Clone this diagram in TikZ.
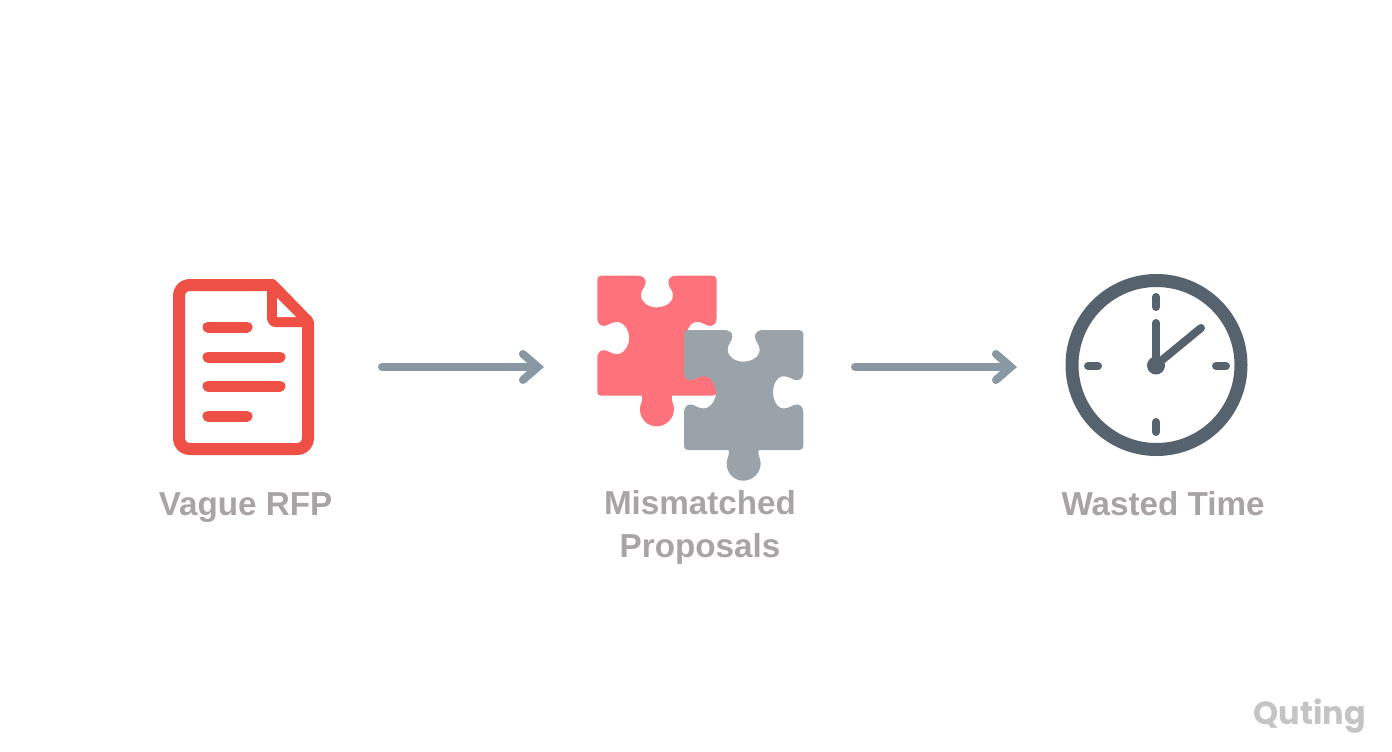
\documentclass[tikz,border=0pt]{standalone}
\usepackage{fontspec}
\setmainfont{Liberation Sans}
\newfontfamily\markfont{Poppins}
\usetikzlibrary{arrows.meta}
\definecolor{docred}{HTML}{EE5045}
\definecolor{pink}{HTML}{FE737B}
\definecolor{piecegray}{HTML}{9AA3AA}
\definecolor{clockgray}{HTML}{56636E}
\definecolor{arrowgray}{HTML}{8A98A3}
\definecolor{labelgray}{HTML}{A8A3A5}
\definecolor{markgray}{HTML}{C4C4C4}
\newcommand\piecepath{%
  (0,12) .. controls (0,4) and (4,0) .. (12,0) -- (120,0)
  .. controls (136,0) and (146,8) .. (145,20)
  .. controls (144,36) and (130,42) .. (131,60)
  .. controls (132,82) and (155,95) .. (178,95)
  .. controls (202,95) and (226,82) .. (227,60)
  .. controls (228,42) and (213,36) .. (213,20)
  .. controls (213,8) and (222,0) .. (238,0) -- (345,0)
  .. controls (353,0) and (358,4) .. (358,12) -- (358,128)
  .. controls (358,145) and (345,155) .. (330,149)
  .. controls (315,142) and (305,136) .. (290,140)
  .. controls (276,146) and (267,165) .. (267,187)
  .. controls (267,208) and (276,228) .. (290,234)
  .. controls (305,238) and (315,232) .. (330,225)
  .. controls (345,219) and (358,229) .. (358,246) -- (358,348)
  .. controls (358,356) and (353,360) .. (345,360) -- (224,360)
  .. controls (220,375) and (230,385) .. (230,400)
  .. controls (230,430) and (205,452) .. (178,452)
  .. controls (150,452) and (128,430) .. (128,400)
  .. controls (128,385) and (138,375) .. (134,360) -- (12,360)
  .. controls (4,360) and (0,356) .. (0,348) -- (0,246)
  .. controls (0,229) and (13,219) .. (28,225)
  .. controls (43,232) and (53,238) .. (68,234)
  .. controls (84,228) and (96,208) .. (96,187)
  .. controls (96,165) and (84,146) .. (68,140)
  .. controls (53,136) and (43,142) .. (28,149)
  .. controls (13,155) and (0,145) .. (0,128) -- cycle}
\tikzset{
  iconbox/.style={minimum height=180pt,inner sep=0pt,outer sep=0pt},
  flow/.style={draw=arrowgray,line width=8pt,line cap=round,
    -{Straight Barb[length=15pt,width=26pt,line cap=round,line join=miter]}},
  docline/.style={draw=docred,line width=12pt,line join=round},
  docbar/.style={draw=docred,line width=11pt,line cap=round},
  clockline/.style={draw=clockgray,line width=8pt,line cap=round},
  lab/.style={text=labelgray,font=\bfseries\fontsize{33.2}{43}\selectfont,align=center,inner sep=0pt},
}
\begin{document}
\begin{tikzpicture}[x=1pt,y=-1pt]
\useasboundingbox[fill=white] (0,0) rectangle (1392,752);
\node[iconbox,minimum width=277pt] (doc) at (243.5,367) {};
\node[iconbox,minimum width=311pt] (puz) at (699.5,367) {};
\node[iconbox,minimum width=278pt] (clk) at (1156,367) {};
% document icon
\path[docline] (191,285) -- (272,285) -- (308,322) -- (308,437)
  .. controls (308,445) and (304,449) .. (296,449) -- (191,449)
  .. controls (183,449) and (179,445) .. (179,437) -- (179,297)
  .. controls (179,289) and (183,285) .. (191,285) -- cycle;
\path[draw=docred,line width=10pt,line join=round] (272,285) -- (272,318) .. controls (272,320) and (273,322) .. (275,322) -- (308,322);
\fill[docred] (272,285) -- (308,322) -- (272,322) -- cycle;
\fill[white] (277,298) -- (277,317) -- (296,317) -- cycle;
\path[docbar] (208,327) -- (247,327);
\path[docbar] (208,357) -- (280,357);
\path[docbar] (208,386) -- (280,386);
\path[docbar] (208,416) -- (247,416);
% puzzle
\begin{scope}[shift={(597.3,275.7)},scale=1/3]
  \fill[pink] \piecepath;
\end{scope}
\begin{scope}[shift={(684,330)},scale=1/3]
  \fill[piecegray] \piecepath;
\end{scope}
% clock
\draw[clockgray,line width=13pt] (1156.5,365) circle[radius=84.5];
\path[clockline] (1156,297) -- (1156,307);
\path[clockline] (1156,422) -- (1156,432);
\path[clockline] (1088,366) -- (1098,366);
\path[clockline] (1216,366) -- (1226,366);
\path[clockline] (1156,365) -- (1156,323);
\path[clockline] (1156,365) -- (1201,328);
\fill[clockgray] (1156,365.5) circle[radius=9];
% connectors
\draw[flow] (doc.east) -- (puz.west);
\draw[flow] (puz.east) -- (clk.west);
% labels
\node[lab,anchor=base] (l1) at (245.5,515) {Vague RFP};
\node[lab] (l2) at (700,527) {Mismatched\\Proposals};
\node[lab,anchor=base] (l3) at (1163,515) {Wasted Time};
\node[text=markgray,font=\markfont\bfseries\fontsize{32}{32}\selectfont,inner sep=0pt] (mark) at (1310,716) {Quting};
\end{tikzpicture}
\end{document}
